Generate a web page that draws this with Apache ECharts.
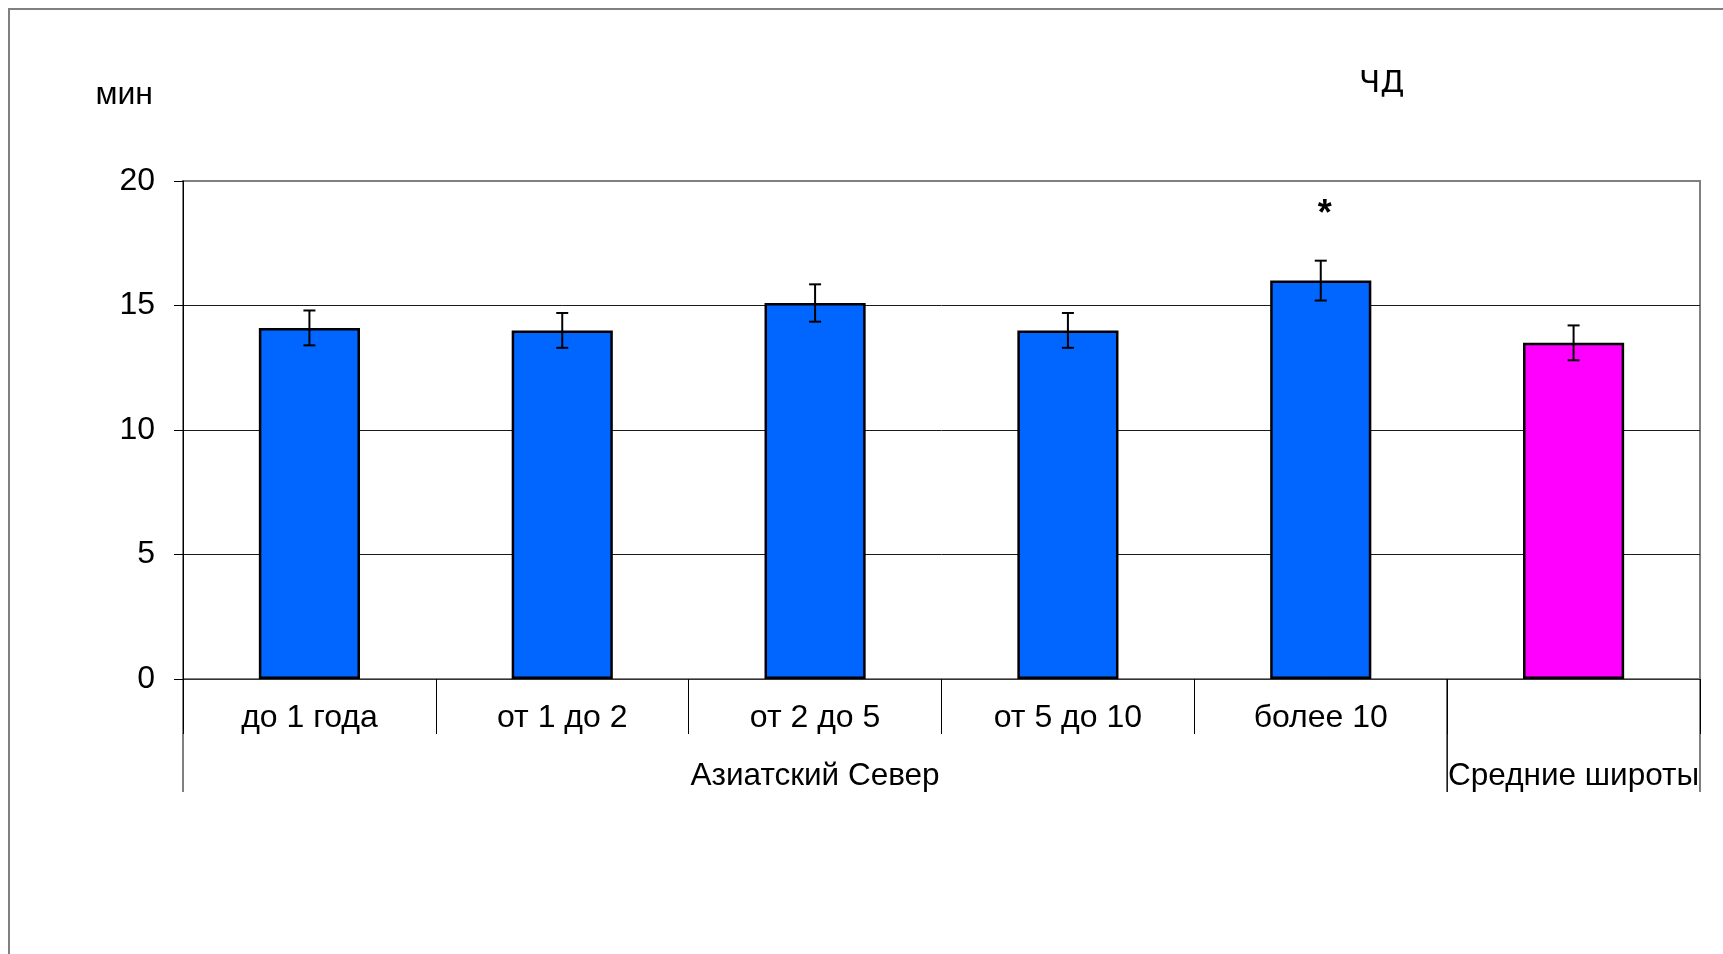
<!DOCTYPE html>
<html>
<head>
<meta charset="utf-8">
<script src="https://cdn.jsdelivr.net/npm/echarts@6/dist/echarts.min.js"></script>
<style>
  html, body { margin: 0; padding: 0; background: #fff; }
  #chart { width: 1723px; height: 954px; }
</style>
</head>
<body>
<div id="chart"></div>
<script>
// Respiratory rate (ЧД) by length of residence in the Asian North vs. mid-latitudes
const categories = ['до 1 года', 'от 1 до 2', 'от 2 до 5', 'от 5 до 10', 'более 10', ''];
const means = [14.1, 14.0, 15.1, 14.0, 16.0, 13.5];
const errors = [0.7, 0.7, 0.75, 0.7, 0.8, 0.7];
const marks = ['', '', '', '', '*', ''];
const groups = [
  { name: 'Азиатский Север', start: 0, end: 4 },
  { name: 'Средние широты', start: 5, end: 5 }
];
const yTicks = { min: 0, max: 20, step: 5 };
const titleText = 'ЧД';
const unitText = 'мин';

const FONT = '"Liberation Sans", Arial, sans-serif';
const groupColors = ['#0066FF', '#FF00FF'];

function groupOf(idx) {
  return groups.findIndex(g => idx >= g.start && idx <= g.end);
}

const chart = echarts.init(document.getElementById('chart'));

const option = {
  animation: false,
  backgroundColor: '#fff',
  title: {
    text: titleText,
    left: 1354,
    top: 63,
    textStyle: { fontFamily: '"DejaVu Sans", sans-serif', fontSize: 31, fontWeight: 'normal', color: '#000' }
  },
  graphic: [{
    type: 'rect',
    silent: true,
    shape: { x: 9, y: 9, width: 1800, height: 1000 },
    style: { fill: 'none', stroke: '#808080', lineWidth: 2 }
  }],
  grid: {
    left: 183, right: 23, top: 181, bottom: 275,
    show: true, borderColor: '#808080', borderWidth: 2, backgroundColor: 'transparent'
  },
  xAxis: {
    type: 'category',
    data: categories,
    boundaryGap: true,
    axisLine: { lineStyle: { color: '#333', width: 1 } },
    axisTick: { show: true, interval: 0, length: 55, alignWithLabel: false, lineStyle: { color: '#000', width: 1 } },
    axisLabel: { interval: 0, fontFamily: FONT, fontSize: 32, color: '#000', margin: 23 },
    splitLine: { show: false }
  },
  yAxis: {
    type: 'value',
    min: yTicks.min, max: yTicks.max, interval: yTicks.step,
    name: unitText,
    nameLocation: 'end',
    nameGap: 70,
    nameTextStyle: { fontFamily: FONT, fontSize: 32, color: '#000', align: 'right', padding: [0, 30, 0, 0] },
    axisLine: { show: true, lineStyle: { color: '#000', width: 1 } },
    axisTick: { show: true, inside: false, length: 9, lineStyle: { color: '#000', width: 1 } },
    axisLabel: { fontFamily: FONT, fontSize: 32, color: '#000', margin: 28 },
    splitLine: { show: true, showMinLine: false, showMaxLine: false, lineStyle: { color: '#1a1a1a', width: 1 } }
  },
  series: [
    {
      type: 'bar',
      data: means,
      barWidth: '40%',
      itemStyle: {
        color: p => groupColors[groupOf(p.dataIndex)],
        borderColor: '#000',
        borderWidth: 2.5
      },
      z: 2
    },
    {
      // error bars with significance marks
      type: 'custom',
      data: means.map((m, i) => [i, m - errors[i], m + errors[i]]),
      z: 3,
      renderItem: function (params, api) {
        const i = api.value(0);
        const lo = api.coord([i, api.value(1)]);
        const hi = api.coord([i, api.value(2)]);
        const cap = 6;
        const st = { stroke: '#000', lineWidth: 2 };
        const children = [
          { type: 'line', shape: { x1: hi[0], y1: hi[1], x2: lo[0], y2: lo[1] }, style: st },
          { type: 'line', shape: { x1: hi[0] - cap, y1: hi[1], x2: hi[0] + cap, y2: hi[1] }, style: st },
          { type: 'line', shape: { x1: lo[0] - cap, y1: lo[1], x2: lo[0] + cap, y2: lo[1] }, style: st }
        ];
        const mk = marks[params.dataIndex];
        if (mk) {
          children.push({
            type: 'text',
            style: {
              text: mk, x: hi[0] + 4, y: hi[1] - 46,
              align: 'center', verticalAlign: 'middle',
              font: 'bold 36px "Liberation Sans", Arial, sans-serif', fill: '#000'
            }
          });
        }
        return { type: 'group', children: children };
      }
    },
    {
      // group labels and separators below the category axis
      type: 'custom',
      data: groups.map(g => [g.start, g.end]),
      z: 3,
      renderItem: function (params, api) {
        const bw = api.size([1, 0])[0];
        const a = api.coord([api.value(0), 0]);
        const b = api.coord([api.value(1), 0]);
        const left = a[0] - bw / 2;
        const right = b[0] + bw / 2;
        const y0 = a[1];
        const st = { stroke: '#000', lineWidth: 1 };
        return {
          type: 'group',
          children: [
            { type: 'line', shape: { x1: left, y1: y0, x2: left, y2: y0 + 113 }, style: st },
            { type: 'line', shape: { x1: right, y1: y0, x2: right, y2: y0 + 113 }, style: st },
            {
              type: 'text',
              style: {
                text: groups[params.dataIndex].name,
                x: (left + right) / 2, y: y0 + 97,
                align: 'center', verticalAlign: 'middle',
                font: '31.5px "Liberation Sans", Arial, sans-serif', fill: '#000'
              }
            }
          ]
        };
      }
    }
  ]
};

chart.setOption(option);
</script>
</body>
</html>
